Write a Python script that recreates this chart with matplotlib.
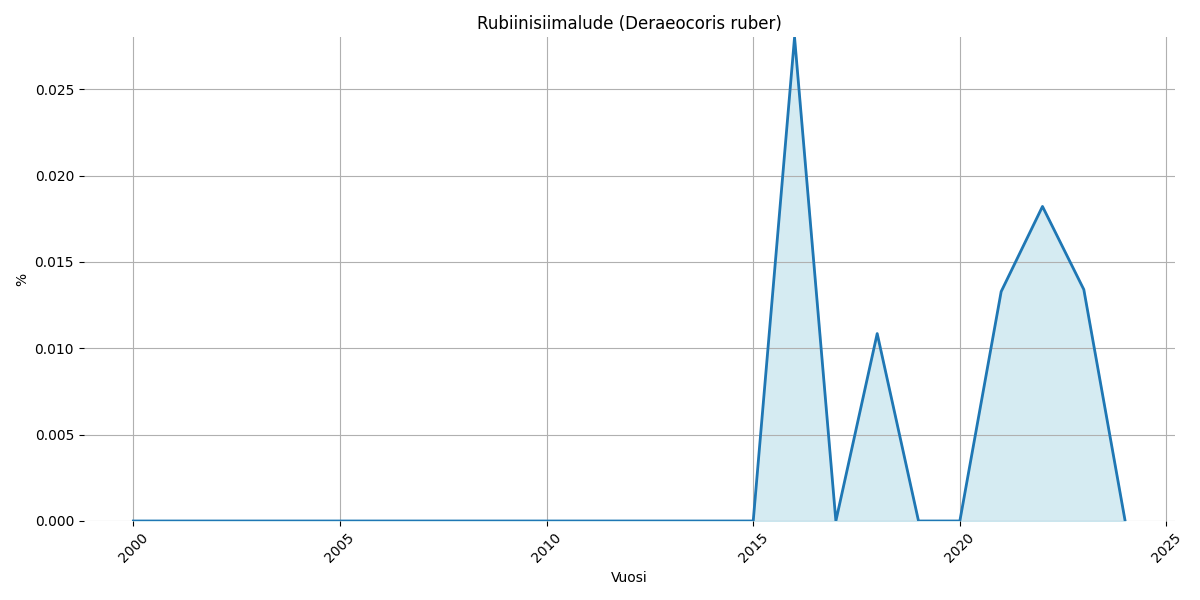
import numpy as np
from matplotlib import pyplot as plt

vuodet = list(range(2000, 2025))
osuus = [0.0] * 15 + [0.0, 0.0280, 0.0, 0.01085, 0.0, 0.0, 0.01328, 0.01821, 0.0134, 0.0]
otsikko = 'Rubiinisiimalude (Deraeocoris ruber)'

fig, ax = plt.subplots(figsize=(12, 6), dpi=100)
ax.fill_between(vuodet, osuus, color='lightblue', alpha=0.5)
ax.plot(vuodet, osuus, color='tab:blue', linewidth=2)
ax.set_title(otsikko)
ax.set_xlabel('Vuosi')
ax.set_ylabel('%')
ax.set_ylim(0, max(osuus))
ax.grid(True)
for s in ax.spines.values():
    s.set_visible(False)
plt.xticks(rotation=45)
plt.tight_layout()
plt.savefig('out.png')
